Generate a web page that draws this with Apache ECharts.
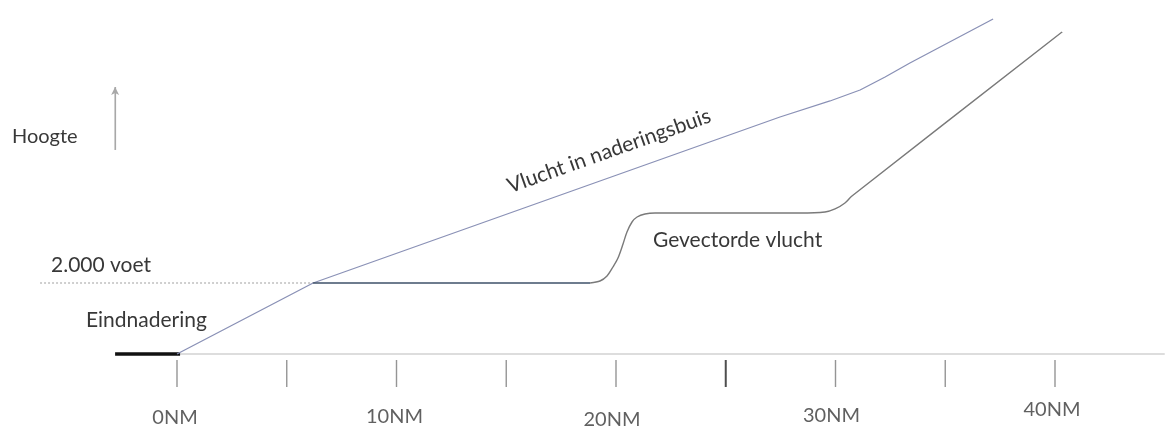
<!DOCTYPE html>
<html>
<head>
<meta charset="utf-8">
<style>
  html, body { margin: 0; padding: 0; background: #ffffff; }
  #chart { width: 1168px; height: 428px; }
</style>
<script src="https://cdn.jsdelivr.net/npm/echarts@6/dist/echarts.min.js"></script>
</head>
<body>
<div id="chart"></div>
<script>
// ---- data (distance in NM, altitude in feet) ----
const approachNM = [0, 6.2, 27.47, 29.75, 31.12, 32.26, 33.39, 37.18];
const approachFt = [0, 2000, 6676, 7127, 7437, 7803, 8197, 9437];

const vectorLowNM = [6.2, 18.82];
const vectorLowFt = [2000, 2000];

const vectorHighNM = [18.82, 19.27, 19.59, 19.86, 20.09, 20.32, 20.5, 20.73, 20.96, 21.32, 21.78, 23.83, 28.38, 29.52, 29.98, 30.43, 30.75, 40.32];
const vectorHighFt = [2000, 2056, 2197, 2451, 2704, 3099, 3437, 3718, 3859, 3944, 3972, 3972, 3972, 4000, 4085, 4254, 4451, 9070];

const finalNM = [-2.82, 0.14];
const finalFt = [0, 0];

const levelNM = [-6.24, 6.2];
const levelFt = [2000, 2000];

const groundNM = [0.1, 45];
const groundFt = [0, 0];

const tickNM = [0, 5, 10, 15, 20, 25, 30, 35, 40];
const tickLabelNM = [0, 10, 20, 30, 40];
const tickLabels = ['0NM', '10NM', '20NM', '30NM', '40NM'];

const heightArrowNM = [-2.82, -2.82];
const heightArrowFt = [5750, 7520];

// ---- helpers ----
const zip = (xs, ys) => xs.map((x, i) => [x, ys[i]]);
const FONT = 'Lato, "Noto Sans", sans-serif';
const TEXT = '#383838';

const labelShift = [[-2, 0], [-2, -1], [-4, 2], [-4, -2], [-3, -8]];

const chart = echarts.init(document.getElementById('chart'), null, { renderer: 'canvas' });

chart.setOption({
  animation: false,
  backgroundColor: '#ffffff',
  grid: { left: 1.4, width: 1163.35, top: 6.1, height: 418.9, containLabel: false },
  xAxis: { type: 'value', min: -8, max: 45, show: false },
  yAxis: { type: 'value', min: -2000, max: 9800, show: false },
  series: [
    { // ground line
      type: 'line', data: zip(groundNM, groundFt), symbol: 'none',
      lineStyle: { color: '#d2d2d2', width: 1.5 }, silent: true, z: 1
    },
    { // final approach segment
      type: 'line', data: zip(finalNM, finalFt), symbol: 'none',
      lineStyle: { color: '#111111', width: 3.5 }, silent: true, z: 3
    },
    { // 2000 ft level
      type: 'line', data: zip(levelNM, levelFt), symbol: 'none',
      lineStyle: { color: '#a0a0a0', width: 1, type: [2, 2] }, silent: true, z: 2
    },
    { // approach tube
      type: 'line', data: zip(approachNM, approachFt), symbol: 'none',
      smooth: false,
      lineStyle: { color: '#8a91b6', width: 1.3 }, silent: true, z: 4
    },
    { // vectored flight, low level
      type: 'line', data: zip(vectorLowNM, vectorLowFt), symbol: 'none',
      lineStyle: { color: '#3e5068', width: 1.6 }, silent: true, z: 5
    },
    { // vectored flight, climb and upper part
      type: 'line', data: zip(vectorHighNM, vectorHighFt), symbol: 'none',
      smooth: 0.3,
      lineStyle: { color: '#7a7a7a', width: 1.4 }, silent: true, z: 5
    },
    { // axis ticks
      type: 'scatter', silent: true, z: 3,
      symbol: 'rect',
      data: tickNM.map(v => ({
        value: [v, -549],
        symbolSize: v === 25 ? [2, 27] : [1.4, 27],
        itemStyle: { color: v === 25 ? '#222222' : '#7a7a7a' }
      }))
    },
    { // tick labels
      type: 'scatter', silent: true, z: 3,
      symbolSize: 1, itemStyle: { color: 'rgba(0,0,0,0)' },
      data: tickLabelNM.map((v, i) => ({
        value: [v, -1803],
        label: {
          show: true, position: 'inside', formatter: tickLabels[i],
          offset: labelShift[i], fontFamily: FONT, fontSize: 20, color: TEXT
        }
      }))
    },
    { // height arrow
      type: 'line', data: zip(heightArrowNM, heightArrowFt), symbol: 'none',
      lineStyle: { color: '#a8a8a8', width: 1.2 }, silent: true, z: 2,
      markLine: {
        silent: true, symbol: ['none', 'arrow'], symbolSize: [6, 8],
        label: { show: false },
        lineStyle: { color: '#a8a8a8', width: 1.2, type: 'solid' },
        data: [[{ coord: [heightArrowNM[0], heightArrowFt[0]] }, { coord: [heightArrowNM[1], heightArrowFt[1]] }]]
      }
    }
  ],
  graphic: [
    { type: 'text', x: 12, y: 137, style: { text: 'Hoogte', font: '20px ' + FONT, fill: TEXT, align: 'left', verticalAlign: 'middle' } },
    { type: 'text', x: 51, y: 265, style: { text: '2.000 voet', font: '21px ' + FONT, fill: TEXT, align: 'left', verticalAlign: 'middle' } },
    { type: 'text', x: 86, y: 320, style: { text: 'Eindnadering', font: '21px ' + FONT, fill: TEXT, align: 'left', verticalAlign: 'middle' } },
    { type: 'text', x: 653, y: 240, style: { text: 'Gevectorde vlucht', font: '21px ' + FONT, fill: TEXT, align: 'left', verticalAlign: 'middle' } },
    { type: 'text', x: 609, y: 151, rotation: 19.5 * Math.PI / 180,
      style: { text: 'Vlucht in naderingsbuis', font: '21px ' + FONT, fill: TEXT, align: 'center', verticalAlign: 'middle' } }
  ]
});
</script>
</body>
</html>
